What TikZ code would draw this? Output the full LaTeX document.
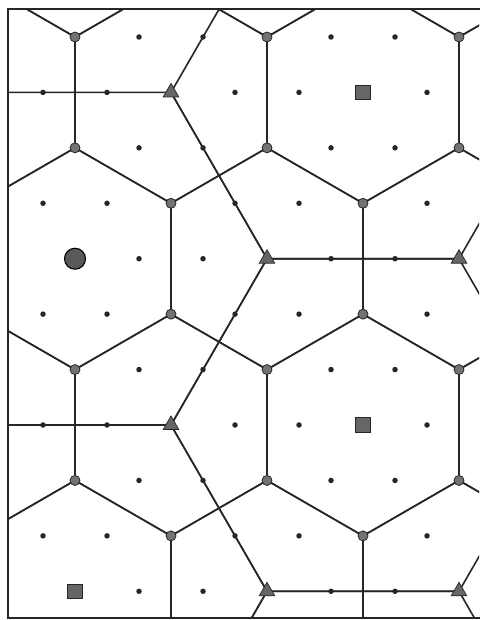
\documentclass[tikz,border=0pt]{standalone}
\usepackage{tikz}
\usetikzlibrary{shapes.geometric,positioning}

\tikzset{
  hamlet/.style={circle,fill=black!85,inner sep=0pt,minimum size=5.5pt},
  village/.style={circle,draw=black!85,fill=black!55,line width=0.8pt,inner sep=0pt,minimum size=10pt},
  town/.style={regular polygon,regular polygon sides=3,draw=black!85,fill=black!60,line width=0.7pt,inner sep=0pt,minimum size=18pt},
  city/.style={rectangle,draw=black!85,fill=black!60,line width=0.7pt,inner sep=0pt,minimum size=14.5pt},
  metro/.style={circle,draw=black,fill=black!65,line width=1.1pt,inner sep=0pt,minimum size=21pt},
  border/.style={line width=1.6pt,draw=black!85},
}

\begin{document}
\begin{tikzpicture}[x=1pt,y=1pt]
    \useasboundingbox (0,0) rectangle (479,620);

    % frame, open on the right
    \draw[line width=1.9pt,black!85] (486,611) -- (8,611) -- (8,2) -- (486,2);

    \begin{scope}
        \clip (8,2) rectangle (479,611);
        % small market areas
        \foreach \x/\r in {75/-2,267/-2,459/-2,-21/1,171/1,363/1,555/1,75/4,267/4,459/4,-21/7,171/7,363/7,555/7,75/10,267/10,459/10}
            \draw[border] (\x,{583-55.43*\r}) +(30:110.85) -- +(90:110.85) -- +(150:110.85) -- +(210:110.85) -- +(270:110.85) -- +(330:110.85) -- cycle;
        % large market areas
        \foreach \x/\r in {75/4,363/1,363/7,75/10,363/13}
            \draw[border] (\x,{583-55.43*\r}) +(0:192) -- +(60:192) -- +(120:192) -- +(180:192) -- +(240:192) -- +(300:192) -- cycle;
    \end{scope}

    % lattice of hamlets
    \foreach \r in {0,...,10}
        \foreach \c in {0,...,6}{
            \pgfmathsetmacro\px{75+64*\c-32*mod(\r,2)}
            \pgfmathsetmacro\py{583-55.43*\r}
            \node[hamlet] (h\c-\r) at (\px,\py) {};
        }

    % villages on the corners of the small areas
    \foreach \r in {0,2,6,8}
        \foreach \c in {0,3,6}
            \node[village] (v\c-\r) at (h\c-\r) {};
    \foreach \r in {3,5,9}
        \foreach \c in {2,5}
            \node[village] (v\c-\r) at (h\c-\r) {};

    % towns
    \node[town] (t1) at (h2-1) {};
    \node[town] (t2) at (h3-4) {};
    \node[town] (t3) at (h6-4) {};
    \node[town] (t4) at (h2-7) {};
    \node[town] (t5) at (h3-10) {};
    \node[town] (t6) at (h6-10) {};

    % cities
    \node[city] (c1) at (h5-1) {};
    \node[city] (c2) at (h5-7) {};
    \node[city] (c3) at (h0-10) {};

    % metropolis
    \node[metro] (m) at (h0-4) {};
\end{tikzpicture}
\end{document}
